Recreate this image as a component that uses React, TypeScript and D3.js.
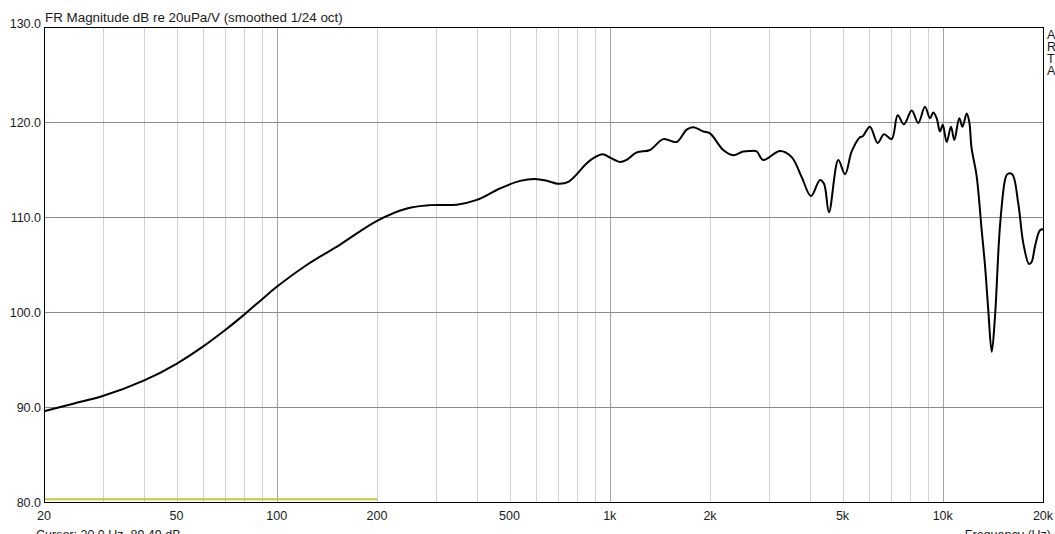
import React, { useEffect, useRef } from 'react';
import * as d3 from 'd3';

const freqs = [
  20, 24.5, 30, 40, 50, 60, 70, 80, 90, 100, 123, 155, 200, 246, 289, 347, 399, 468, 538, 596,
  650, 700, 751, 853, 893, 953, 1002, 1073, 1121, 1205, 1321, 1448, 1589, 1702, 1782, 1910, 2000,
  2192, 2350, 2518, 2638, 2760, 2891, 3246, 3518, 3770, 4021, 4278, 4400, 4553, 4857, 5087, 5328,
  5640, 5750, 6043, 6377, 6662, 7022, 7324, 7647, 8068, 8442, 8842, 9155, 9366, 9585, 9812, 10000,
  10276, 10586, 10832, 11210, 11460, 11800, 12014, 12200, 12640, 13090, 13400, 13700, 14030, 14350,
  14850, 15380, 15620, 16160, 16860, 17460, 18160, 18500, 18920, 19580, 20000,
];
const spl = [
  89.55, 90.35, 91.15, 92.8, 94.55, 96.35, 98.1, 99.75, 101.3, 102.65, 104.95, 107.1, 109.6, 110.9, 111.25,
  111.3, 111.8, 113.0, 113.8, 114.0, 113.8, 113.5, 113.7, 115.65, 116.2, 116.6, 116.25, 115.8, 116.0,
  116.8, 117.05, 118.2, 117.9, 119.2, 119.45, 119.0, 118.8, 117.05, 116.5, 116.9, 116.95, 116.9, 116.0,
  116.95, 116.3, 114.2, 112.2, 113.9, 113.5, 110.5, 116.0, 114.5, 116.9, 118.4, 118.5, 119.5, 117.8,
  118.7, 118.2, 120.7, 119.75, 121.2, 119.9, 121.6, 120.4, 121.0, 120.4, 119.0, 119.7, 117.9, 119.5,
  118.1, 120.4, 119.5, 120.9, 120.0, 117.3, 114.3, 108.6, 104.8, 100.2, 95.8, 99.5, 109.0, 113.9, 114.5,
  114.5, 111.4, 107.2, 105.05, 105.3, 106.9, 108.6, 108.7,
];

// second (yellow) trace
const auxFreqs = [20, 200];
const auxLevels = [80.3, 80.3];

const yTicks = [80, 90, 100, 110, 120, 130];
const xTicks = [20, 50, 100, 200, 500, 1000, 2000, 5000, 10000, 20000];
const xTickLabels = ['20', '50', '100', '200', '500', '1k', '2k', '5k', '10k', '20k'];

const title = 'FR Magnitude dB re 20uPa/V (smoothed 1/24 oct)';
const cursorText = 'Cursor: 20.0 Hz, 89.49 dB';
const xTitle = 'Frequency (Hz)';
const brand = ['A', 'R', 'T', 'A'];

function App() {
  const ref = useRef<SVGSVGElement>(null);

  useEffect(() => {
    const W = 1055, H = 534;
    const left = 44, right = 1043, top = 27, bottom = 502;
    const font = 'Arial, "Liberation Sans", sans-serif';

    const svg = d3.select(ref.current);
    svg.selectAll('*').remove();

    const x = d3.scaleLog().domain([20, 20000]).range([left, right]);
    const y = d3.scaleLinear().domain([80, 130]).range([bottom, top]);
    const px = (v: number) => Math.round(v) + 0.5;

    svg.append('rect').attr('width', W).attr('height', H).attr('fill', '#fff');

    // vertical grid
    const minor: number[] = [];
    [10, 100, 1000, 10000].forEach(dec => {
      for (let m = 1; m <= 9; m++) {
        const f = dec * m;
        if (f > 20 && f < 20000) minor.push(f);
      }
    });
    svg.append('g').selectAll('line').data(minor).join('line')
      .attr('x1', d => px(x(d))).attr('x2', d => px(x(d)))
      .attr('y1', top).attr('y2', bottom)
      .attr('stroke', d => ([100, 1000, 10000].includes(d) ? '#a4a4a4' : '#d0d0d0'))
      .attr('stroke-width', 1);

    // horizontal grid
    svg.append('g').selectAll('line').data(yTicks.slice(1, -1)).join('line')
      .attr('x1', left).attr('x2', right)
      .attr('y1', d => px(y(d))).attr('y2', d => px(y(d)))
      .attr('stroke', '#8a8a8a').attr('stroke-width', 1);

    // yellow trace
    const line = d3.line<[number, number]>()
      .x(d => x(d[0])).y(d => y(d[1]));
    svg.append('path')
      .datum(auxFreqs.map((f, i) => [f, auxLevels[i]] as [number, number]))
      .attr('d', line)
      .attr('fill', 'none').attr('stroke', '#c8c832').attr('stroke-width', 2);

    // frame
    svg.append('rect')
      .attr('x', left + 0.5).attr('y', top + 0.5)
      .attr('width', right - left).attr('height', bottom - top)
      .attr('fill', 'none').attr('stroke', '#000').attr('stroke-width', 1);

    // response curve
    const curve = d3.line<[number, number]>()
      .x(d => x(d[0])).y(d => y(d[1]))
      .curve(d3.curveCatmullRom.alpha(0.5));
    svg.append('path')
      .datum(freqs.map((f, i) => [f, spl[i]] as [number, number]))
      .attr('d', curve)
      .attr('fill', 'none').attr('stroke', '#000').attr('stroke-width', 2)
      .attr('stroke-linejoin', 'round');

    const txt = svg.append('g').attr('font-family', font).attr('font-size', 12.5).attr('fill', '#1a1a1a');

    // y labels
    txt.selectAll('.yl').data(yTicks).join('text')
      .attr('x', left - 3)
      .attr('y', d => Math.min(y(d) + 4.5, d === 130 ? 28 : 1e9))
      .attr('text-anchor', 'end')
      .text(d => d.toFixed(1));

    // x labels
    txt.selectAll('.xl').data(xTicks).join('text')
      .attr('x', d => x(d))
      .attr('y', 520)
      .attr('text-anchor', 'middle')
      .text((d, i) => xTickLabels[i]);

    txt.append('text').attr('x', left + 1).attr('y', 22).attr('font-size', 13.4).text(title);
    txt.append('text').attr('x', left - 8).attr('y', 539).text(cursorText);
    txt.append('text').attr('x', 1051).attr('y', 539).attr('text-anchor', 'end').text(xTitle);

    txt.selectAll('.brand').data(brand).join('text')
      .attr('x', 1047).attr('y', (d, i) => 39 + i * 12)
      .attr('font-size', 12.5)
      .text(d => d);
  }, []);

  return (
    <svg
      ref={ref}
      width={1055}
      height={534}
      style={{ position: 'absolute', left: 0, top: 0, display: 'block' }}
    />
  );
}

export default App;
